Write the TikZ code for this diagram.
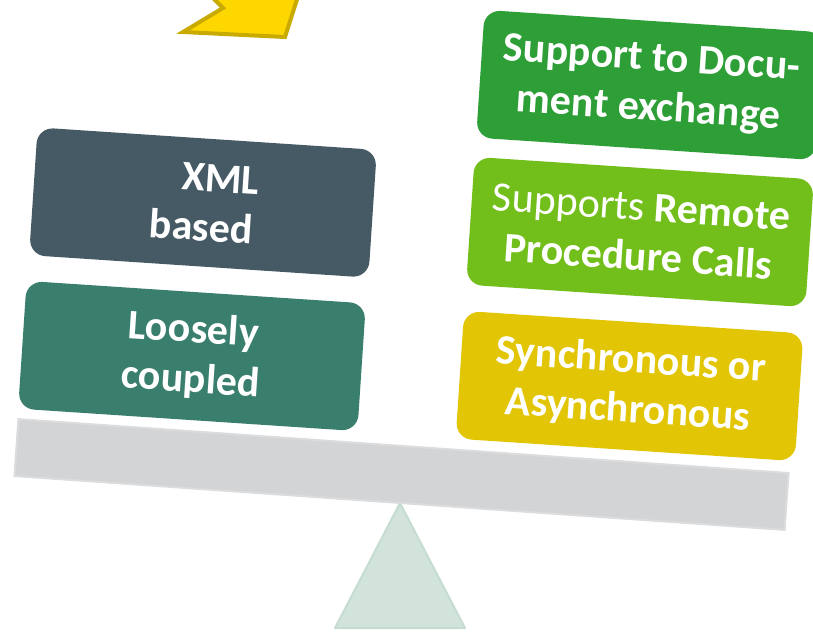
\documentclass[tikz,border=0pt]{standalone}
\usepackage{fontspec}
\setmainfont{Carlito}
\usepackage{tikz}

\definecolor{slate}{HTML}{455A65}
\definecolor{teal}{HTML}{3A7F6D}
\definecolor{leaf}{HTML}{2E9E37}
\definecolor{lime}{HTML}{72BE1B}
\definecolor{mustard}{HTML}{E2C505}
\definecolor{beamgray}{HTML}{D3D4D6}
\definecolor{beamedge}{HTML}{DBDCDE}
\definecolor{pivotfill}{HTML}{D1E3DB}
\definecolor{pivotedge}{HTML}{C6DCD1}
\definecolor{gold}{HTML}{FFD700}
\definecolor{golddark}{HTML}{C9AA00}

\begin{document}
\begin{tikzpicture}[x=0.5pt, y=-0.5pt,
    card/.style={rounded corners=8pt, minimum width=170pt, minimum height=64pt,
      inner sep=0pt, rotate=-3.8, text=white, align=center,
      font=\bfseries\fontsize{21}{25}\selectfont},
    plank/.style={fill=beamgray, draw=beamedge, line width=1pt,
      minimum width=386pt, minimum height=28.5pt, inner sep=0pt, rotate=-4}]
  \useasboundingbox (0,0) rectangle (813,634);
  \clip (0,0) rectangle (813,634);

  % Chevron at the top
  \draw[fill=gold, draw=golddark, line width=2pt, line join=miter]
    (205,-10) -- (223,8) -- (183,32) -- (285,37) -- (300,-10) -- cycle;

  % Pivot
  \draw[fill=pivotfill, draw=pivotedge, line width=1pt, line join=round]
    (400,503) -- (465,628) -- (335,628) -- cycle;

  % Beam
  \node[plank] (beam) at (401.5,474.5) {};

  % Left side
  \node[card, fill=slate] (xml) at (203,202.5) {\hspace*{16pt}XML\\based};
  \node[card, fill=teal] (loose) at (192,356) {Loosely\\coupled};

  % Right side
  \node[card, fill=leaf] (docx) at (650,85) {Support to Docu-\\ment exchange};
  \node[card, fill=lime] (rpc) at (640,232)
    {{\mdseries Supports} Remote\\Procedure Calls};
  \node[card, fill=mustard] (sync) at (629.5,386) {Synchronous or\\Asynchronous};
\end{tikzpicture}
\end{document}
